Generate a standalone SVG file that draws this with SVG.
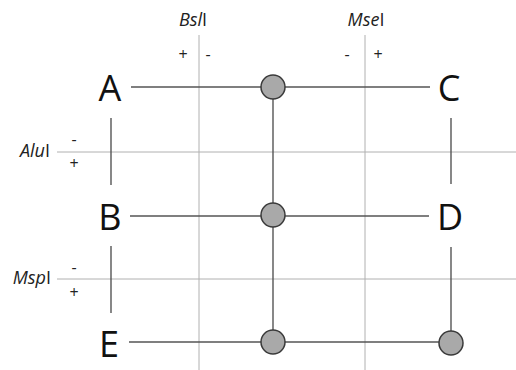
<svg xmlns="http://www.w3.org/2000/svg" width="516" height="370" viewBox="0 0 516 370">
  <style>
    .grid { stroke: #b0b0b0; stroke-width: 1; fill: none; }
    .edge { stroke: #555555; stroke-width: 1.4; fill: none; }
    .dot { fill: #a9a9a9; stroke: #3a3a3a; stroke-width: 1.5; }
    .node { font-family: "Open Sans", "Liberation Sans", sans-serif; font-size: 36px; fill: #111; text-anchor: middle; }
    .enz { font-family: "Open Sans", "Liberation Sans", sans-serif; font-size: 18px; fill: #222; }
    .sign { font-family: "Open Sans", "Liberation Sans", sans-serif; font-size: 16px; fill: #222; text-anchor: middle; }
  </style>
  <rect width="516" height="370" fill="#ffffff"/>
  <g id="grid">
    <line class="grid" x1="199" y1="35" x2="199" y2="370"/>
    <line class="grid" x1="365" y1="35" x2="365" y2="370"/>
    <line class="grid" x1="57" y1="152" x2="516" y2="152"/>
    <line class="grid" x1="57" y1="279" x2="516" y2="279"/>
  </g>
  <g id="enzyme-labels">
    <text class="enz" x="193" y="26" text-anchor="middle"><tspan font-style="italic">Bsl</tspan>I</text>
    <text class="enz" x="366" y="26" text-anchor="middle"><tspan font-style="italic">Mse</tspan>I</text>
    <text class="enz" x="50" y="157" text-anchor="end"><tspan font-style="italic">Alu</tspan>I</text>
    <text class="enz" x="51" y="284" text-anchor="end"><tspan font-style="italic">Msp</tspan>I</text>
    <text class="sign" x="183" y="60">+</text>
    <text class="sign" x="208" y="60">-</text>
    <text class="sign" x="347" y="60">-</text>
    <text class="sign" x="378" y="60">+</text>
    <text class="sign" x="74" y="145">-</text>
    <text class="sign" x="74" y="169">+</text>
    <text class="sign" x="74" y="273">-</text>
    <text class="sign" x="74" y="298">+</text>
  </g>
  <g id="connectors">
    <line class="edge" x1="131" y1="87" x2="430" y2="87"/>
    <line class="edge" x1="130" y1="216" x2="429" y2="216"/>
    <line class="edge" x1="129" y1="342" x2="451" y2="342"/>
    <line class="edge" x1="273" y1="87" x2="273" y2="342"/>
    <line class="edge" x1="111" y1="118" x2="111" y2="185"/>
    <line class="edge" x1="111" y1="246" x2="111" y2="313"/>
    <line class="edge" x1="451" y1="118" x2="451" y2="184"/>
    <line class="edge" x1="451" y1="247" x2="451" y2="342"/>
  </g>
  <g id="node-A"><text class="node" x="110" y="101">A</text></g>
  <g id="node-B"><text class="node" x="110" y="230">B</text></g>
  <g id="node-C"><text class="node" x="449" y="101">C</text></g>
  <g id="node-D"><text class="node" x="450" y="230">D</text></g>
  <g id="node-E"><text class="node" x="109" y="357">E</text></g>
  <g id="junction-1"><circle class="dot" cx="273" cy="87" r="12"/></g>
  <g id="junction-2"><circle class="dot" cx="273" cy="215" r="12"/></g>
  <g id="junction-3"><circle class="dot" cx="273" cy="342" r="12"/></g>
  <g id="junction-4"><circle class="dot" cx="451" cy="343" r="12"/></g>
</svg>
